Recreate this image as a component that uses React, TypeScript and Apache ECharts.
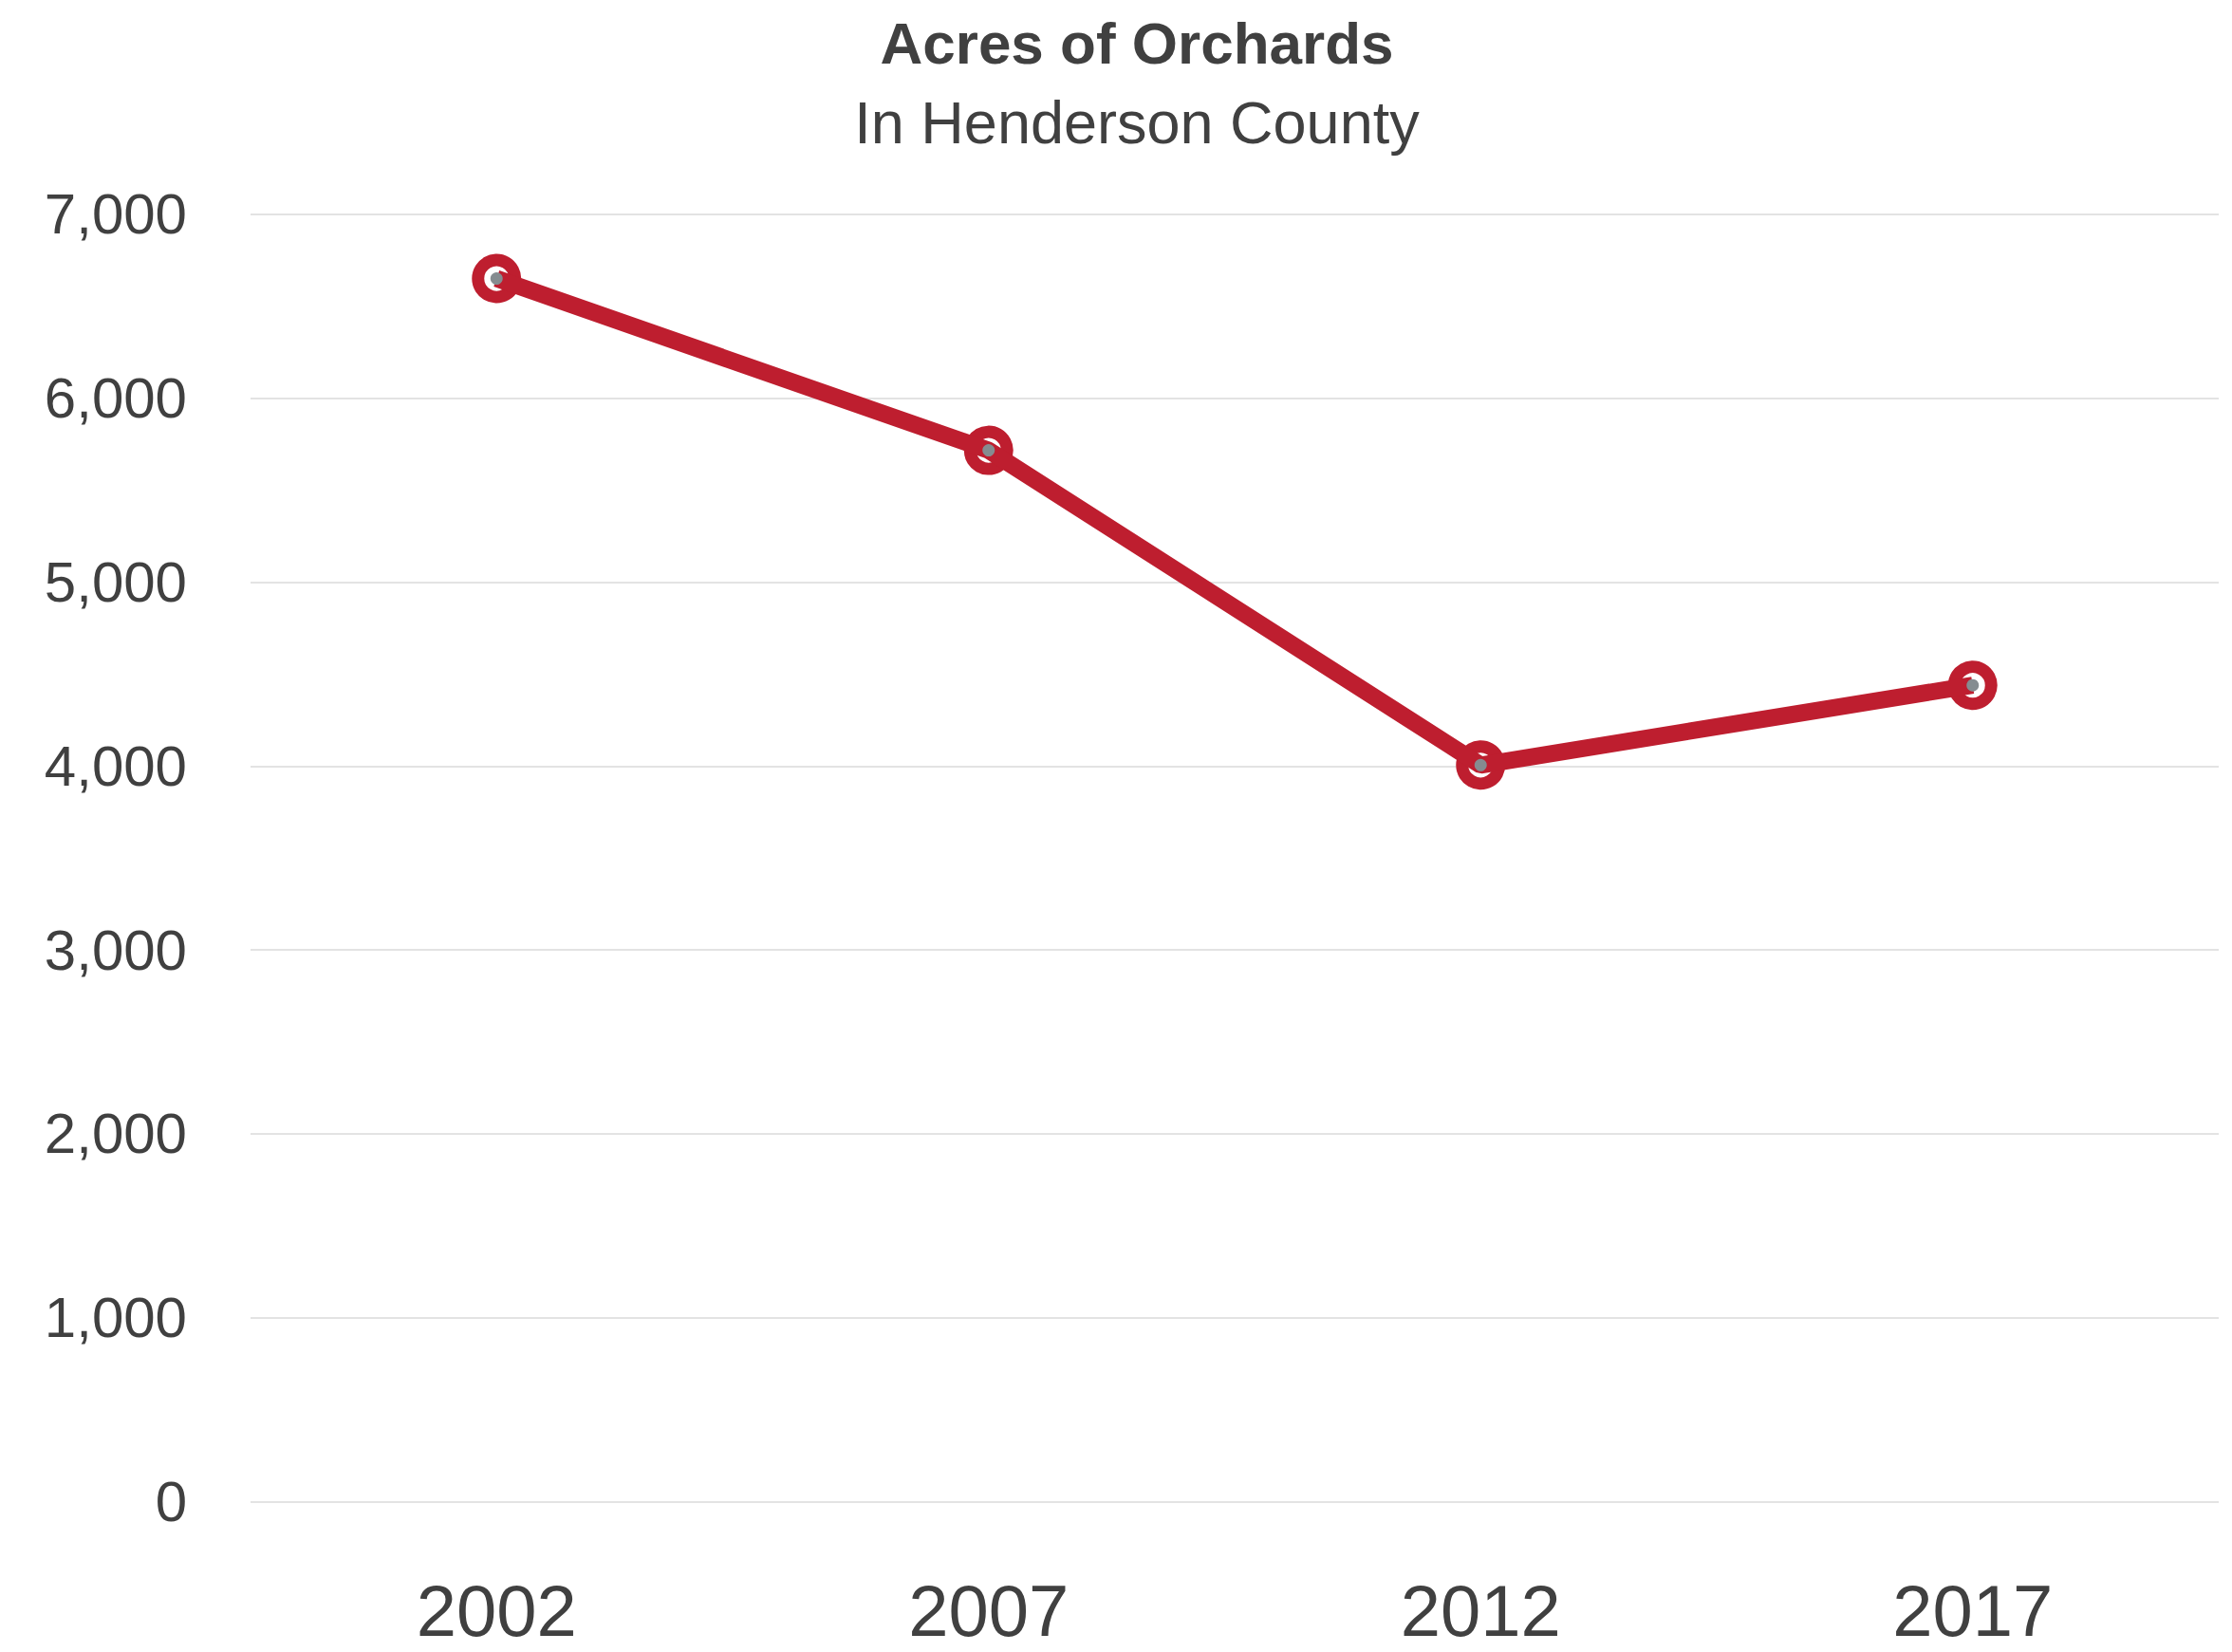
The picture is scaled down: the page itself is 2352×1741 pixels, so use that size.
import React, { useEffect, useRef } from "react";
import * as echarts from "echarts";

const years = ["2002", "2007", "2012", "2017"];
const acres = [6650, 5716, 4005, 4439];
const yTicks = { min: 0, max: 7000, interval: 1000 };

const RED = "#be1e2f";
const TEXT = "#404040";
const GRAY = "#858c90";

export default function App() {
  const ref = useRef<HTMLDivElement>(null);
  useEffect(() => {
    if (!ref.current) return;
    const chart = echarts.init(ref.current, null, { renderer: "svg" });
    chart.setOption({
      animation: false,
      backgroundColor: "#ffffff",
      textStyle: { fontFamily: "Liberation Sans, Arial, sans-serif" },
      grid: { left: 264, right: 14, top: 225.7, bottom: 158.3, containLabel: false },
      graphic: [
        {
          type: "text",
          x: 1198,
          y: 45,
          style: {
            text: "Acres of Orchards",
            fontSize: 62,
            fontWeight: "bold",
            fontFamily: "Liberation Sans, Arial, sans-serif",
            fill: TEXT,
            textAlign: "center",
            textVerticalAlign: "middle",
          },
        },
        {
          type: "text",
          x: 1198,
          y: 129,
          style: {
            text: "In Henderson County",
            fontSize: 63,
            fontFamily: "Liberation Sans, Arial, sans-serif",
            fill: TEXT,
            textAlign: "center",
            textVerticalAlign: "middle",
          },
        },
      ],
      xAxis: {
        type: "category",
        data: years,
        boundaryGap: true,
        axisLine: { show: false },
        axisTick: { show: false },
        splitLine: { show: false },
        axisLabel: { fontSize: 76, lineHeight: 60, color: TEXT, margin: 85 },
      },
      yAxis: {
        type: "value",
        min: yTicks.min,
        max: yTicks.max,
        interval: yTicks.interval,
        axisLine: { show: false },
        axisTick: { show: false },
        splitLine: { lineStyle: { color: "#e3e3e3", width: 2 } },
        axisLabel: {
          fontSize: 60,
          color: TEXT,
          margin: 67,
          formatter: (v: number) => v.toLocaleString("en-US"),
        },
      },
      series: [
        {
          type: "scatter",
          data: acres,
          z: 1,
          symbol: "circle",
          symbolSize: 39,
          itemStyle: { color: "#ffffff", borderColor: RED, borderWidth: 13, opacity: 1 },
          silent: true,
        },
        {
          type: "line",
          data: acres,
          z: 2,
          showSymbol: false,
          symbol: "none",
          lineStyle: { color: RED, width: 18 },
          silent: true,
        },
        {
          type: "scatter",
          data: acres,
          z: 3,
          symbol: "circle",
          symbolSize: 13,
          itemStyle: { color: GRAY, opacity: 1 },
          silent: true,
        },
      ],
    });
    return () => chart.dispose();
  }, []);
  return (
    <div
      ref={ref}
      style={{ position: "fixed", left: 0, top: 0, width: 2352, height: 1741, background: "#fff" }}
    />
  );
}
